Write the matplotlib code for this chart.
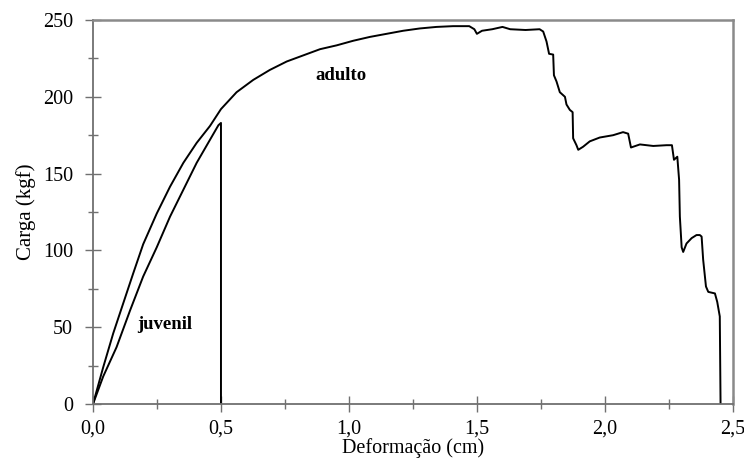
import numpy as np
import matplotlib.pyplot as plt
from matplotlib.ticker import MultipleLocator

plt.rcParams['font.family'] = ['Liberation Serif', 'DejaVu Serif']

# curva adulto
adult_x = [0.0, 0.02, 0.04, 0.079, 0.118, 0.157, 0.196, 0.249, 0.301, 0.353,
           0.405, 0.457, 0.5, 0.561, 0.626, 0.691, 0.757, 0.822, 0.887, 0.952,
           1.017, 1.082, 1.147, 1.212, 1.277, 1.342, 1.407, 1.47, 1.49, 1.50,
           1.52, 1.56, 1.60, 1.63, 1.69, 1.745, 1.759, 1.772, 1.782, 1.798,
           1.801, 1.811, 1.824, 1.844, 1.85, 1.863, 1.874, 1.876, 1.889, 1.896,
           1.915, 1.941, 1.98, 2.032, 2.071, 2.091, 2.102, 2.137, 2.189, 2.241,
           2.262, 2.27, 2.283, 2.29, 2.293, 2.30, 2.306, 2.319, 2.339, 2.358,
           2.371, 2.378, 2.384, 2.395, 2.404, 2.43, 2.439, 2.449, 2.452]
adult_y = [0, 12, 24, 46, 65.5, 85, 104, 124, 141.5, 157,
           170, 181, 192, 203, 211, 217.5, 223, 227, 231, 233.5,
           236.5, 239, 241, 243, 244.5, 245.5, 246, 246, 244, 241,
           243, 244, 245.5, 244, 243.5, 244, 242.5, 236, 228, 227.5,
           214, 210, 203, 200, 195, 191.5, 190, 173, 168.5, 165.5,
           167.5, 171, 173.5, 175, 177, 176, 167, 169, 168, 168.5,
           168.5, 159, 161, 146, 122, 102, 99, 104.5, 108, 110,
           110, 109, 94, 76.5, 73, 72, 66.5, 57, 0]

# curva juvenil
juv_x = [0.0, 0.04, 0.092, 0.145, 0.196, 0.249, 0.301, 0.353, 0.405, 0.457,
         0.49, 0.5, 0.5]
juv_y = [0, 18, 37, 61, 83, 102, 122, 139.5, 157, 172,
         181.5, 183, 0]

xticks = [0.0, 0.5, 1.0, 1.5, 2.0, 2.5]
xtick_labels = ['0,0', '0,5', '1,0', '1,5', '2,0', '2,5']
yticks = [0, 50, 100, 150, 200, 250]
ytick_labels = ['0', '50', '100', '150', '200', '250']

fig = plt.figure(figsize=(7.44, 4.61), dpi=100)
ax = fig.add_axes([0.125, 0.1236, 0.86, 0.833])

ax.plot(adult_x, adult_y, color='black', lw=1.4)
ax.plot(juv_x, juv_y, color='black', lw=1.4)

ax.text(0.172, 52, 'juvenil', fontsize=13.5, fontweight='bold', va='center')
ax.text(0.867, 214, 'adulto', fontsize=13.5, fontweight='bold', va='center')

ax.set_xlim(0, 2.5)
ax.set_ylim(0, 250)
ax.set_xticks(xticks)
ax.set_xticklabels(xtick_labels)
ax.set_yticks(yticks)
ax.set_yticklabels(ytick_labels)
ax.xaxis.set_minor_locator(MultipleLocator(0.25))
ax.yaxis.set_minor_locator(MultipleLocator(25))
ax.tick_params(which='major', direction='inout', length=11, width=1, color='#707070',
               labelsize=14.5)
ax.tick_params(axis='y', which='major', pad=9)
ax.tick_params(axis='x', which='major', pad=6)
ax.tick_params(which='minor', direction='inout', length=7, width=1, color='#707070')

ax.set_xlabel('Deformação (cm)', fontsize=14.5, labelpad=-1)
ax.set_ylabel('Carga (kgf)', fontsize=15, labelpad=5)

for s in ['left', 'bottom']:
    ax.spines[s].set_color('#707070')
    ax.spines[s].set_linewidth(1.3)
for s in ['top', 'right']:
    ax.spines[s].set_color('#8a8a8a')
    ax.spines[s].set_linewidth(1.8)

fig.savefig('out.png', dpi=100)
